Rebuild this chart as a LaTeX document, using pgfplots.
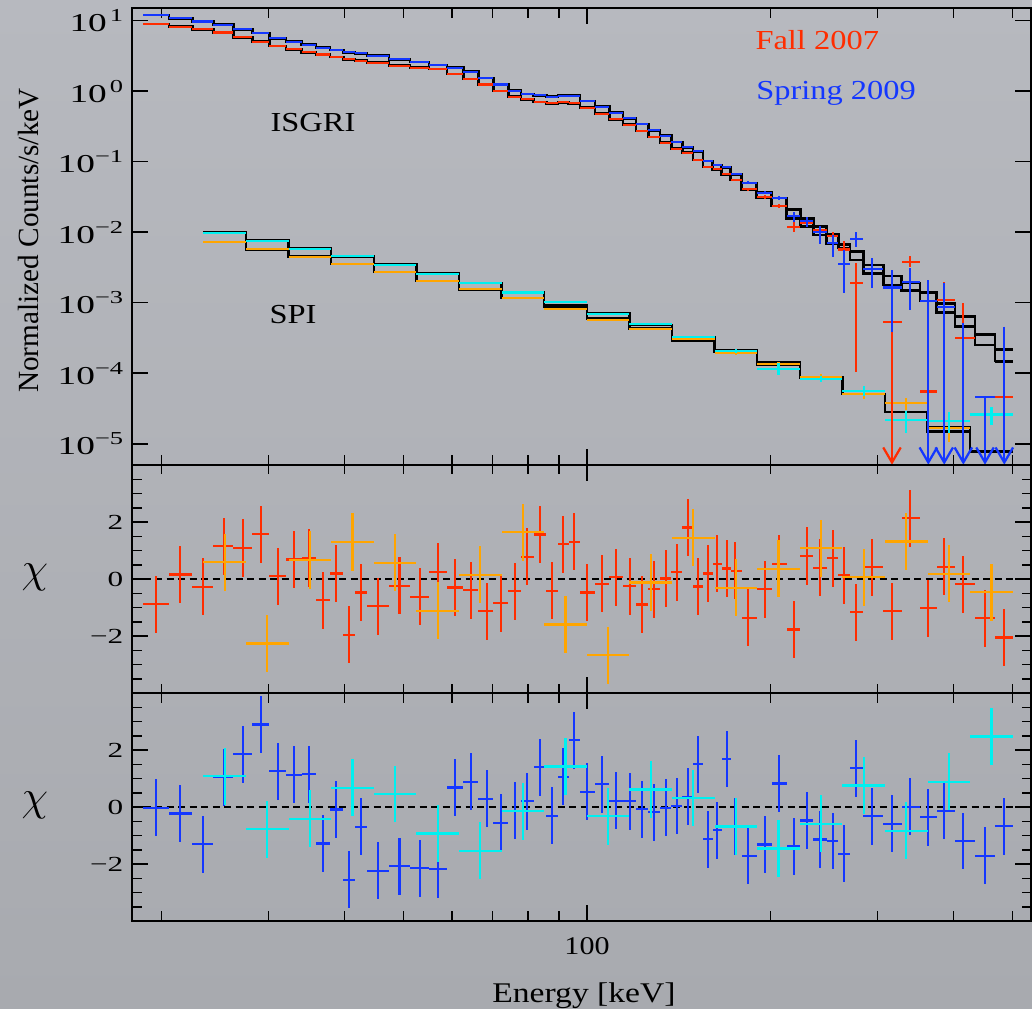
\documentclass[border=0pt]{standalone}
\usepackage{fontspec}
\setmainfont{Liberation Serif}[FakeStretch=1.18]
\newfontfamily\plainserif{Liberation Serif}
\newfontfamily\tickfont{Liberation Serif}[FakeStretch=1.45]
\usepackage{pgfplots}
\pgfplotsset{compat=1.18}
\usepackage{pgfplotstable}
\usetikzlibrary{arrows.meta}

\definecolor{bgtop}{RGB}{183,185,191}
\definecolor{bgbot}{RGB}{168,170,175}
\definecolor{myred}{RGB}{255,45,0}
\definecolor{myblue}{RGB}{20,55,255}
\definecolor{myorange}{RGB}{255,165,0}
\definecolor{mycyan}{RGB}{0,240,240}

\newcommand{\tsup}[1]{\raisebox{0.38em}{\fontsize{7.3}{8}\selectfont #1}}

% ISGRI: bin centre, edges, data (Fall 2007 = r, Spring 2009 = b) with bounds, models, chi residuals
\pgfplotstableread{
E lo hi r rlo rhi b blo bhi rm bm rc bc
19.58 18.68 20.59 8.98 8.98 8.98 12.0 12.0 12.0 8.98 12.0 -0.88 -0.02
21.49 20.59 22.48 8.20 8.20 8.20 10.8 10.8 10.8 8.20 10.8 0.16 -0.22
23.42 22.48 24.35 7.55 7.55 7.55 9.70 9.70 9.70 7.55 9.70 -0.27 -1.30
25.32 24.35 26.26 6.77 6.77 6.77 8.78 8.78 8.78 6.77 8.78 1.15 1.05
27.24 26.26 28.21 5.81 5.81 5.81 7.55 7.55 7.55 5.81 7.55 1.09 1.86
29.15 28.21 30.09 5.04 5.04 5.04 6.63 6.63 6.63 5.04 6.63 1.58 2.90
31.06 30.09 32.05 4.38 4.38 4.38 5.62 5.62 5.62 4.38 5.62 0.10 1.26
32.99 32.05 34.00 3.93 3.93 3.93 5.04 5.04 5.04 3.93 5.04 0.69 1.13
34.91 34.00 35.89 3.56 3.56 3.56 4.57 4.57 4.57 3.56 4.57 0.74 1.16
36.81 35.89 37.84 3.30 3.30 3.30 4.14 4.14 4.14 3.30 4.14 -0.74 -1.28
38.72 37.84 39.80 3.06 3.06 3.06 3.84 3.84 3.84 3.06 3.84 0.20 -0.08
40.67 39.80 41.60 2.83 2.83 2.83 3.56 3.56 3.56 2.83 3.56 -1.95 -2.55
42.56 41.60 43.49 2.71 2.71 2.71 3.45 3.45 3.45 2.71 3.45 -0.47 -0.69
45.43 43.49 47.30 2.54 2.54 2.54 3.19 3.19 3.19 2.54 3.19 -0.95 -2.24
49.19 47.30 51.22 2.30 2.30 2.30 2.83 2.83 2.83 2.30 2.83 -0.23 -2.07
53.13 51.22 55.04 2.15 2.15 2.15 2.59 2.59 2.59 2.15 2.59 -0.62 -2.14
56.95 55.04 58.85 2.07 2.07 2.07 2.35 2.35 2.35 2.07 2.35 0.25 -2.18
60.79 58.85 62.65 1.75 1.75 1.75 2.15 2.15 2.15 1.75 2.15 -0.29 0.69
64.50 62.65 66.31 1.50 1.50 1.50 1.89 1.89 1.89 1.50 1.89 -0.39 0.89
68.44 66.31 70.18 1.24 1.24 1.24 1.55 1.55 1.55 1.24 1.55 -1.12 0.29
72.16 70.18 74.27 1.01 1.01 1.01 1.24 1.24 1.24 1.01 1.24 -0.85 -0.55
76.17 74.27 77.92 0.836 0.836 0.836 1.017 1.017 1.017 0.836 1.017 -0.42 -0.13
79.79 77.92 81.75 0.767 0.767 0.767 0.913 0.913 0.913 0.767 0.913 0.78 0.21
83.71 81.75 85.74 0.703 0.703 0.703 0.874 0.874 0.874 0.703 0.874 1.56 1.40
87.70 85.74 89.61 0.673 0.673 0.673 0.836 0.836 0.836 0.673 0.836 -0.41 -0.31
91.43 89.61 93.32 0.695 0.695 0.695 0.864 0.864 0.864 0.695 0.864 1.22 1.07
95.31 93.32 97.39 0.673 0.673 0.673 0.864 0.864 0.864 0.673 0.864 1.31 2.35
100.11 97.39 103.07 0.584 0.584 0.584 0.726 0.726 0.726 0.584 0.726 -0.47 0.54
105.96 103.07 108.80 0.480 0.480 0.480 0.603 0.603 0.603 0.480 0.603 -0.16 0.81
111.71 108.80 114.56 0.399 0.399 0.399 0.496 0.496 0.496 0.399 0.496 0.07 0.22
117.52 114.56 120.34 0.335 0.335 0.335 0.412 0.412 0.412 0.335 0.412 -0.25 0.21
123.25 120.34 126.07 0.2725 0.2725 0.2725 0.343 0.343 0.343 0.2725 0.343 -0.89 -0.07
128.96 126.07 131.77 0.2241 0.2241 0.2241 0.2786 0.2786 0.2786 0.2241 0.2786 -0.35 -0.18
134.64 131.77 137.53 0.1862 0.1862 0.1862 0.2340 0.2340 0.2340 0.1862 0.2340 0.02 -0.02
140.52 137.53 143.37 0.1530 0.1530 0.1530 0.1903 0.1903 0.1903 0.1530 0.1903 0.24 0.04
146.32 143.37 149.29 0.1343 0.1343 0.1343 0.1599 0.1599 0.1599 0.1343 0.1599 1.81 0.36
152.14 149.29 155.05 0.1057 0.1057 0.1057 0.1403 0.1403 0.1403 0.1057 0.1403 -0.26 1.51
157.82 155.05 160.84 0.0840 0.0840 0.0840 0.1030 0.1030 0.1030 0.0840 0.1030 0.20 -1.13
163.66 160.84 166.40 0.0779 0.0779 0.0779 0.0898 0.0898 0.0898 0.0779 0.0898 0.54 -0.81
169.58 166.40 172.16 0.0662 0.0662 0.0662 0.0832 0.0832 0.0832 0.0662 0.0832 0.37 1.69
175.18 172.16 179.47 0.0550 0.0550 0.0550 0.0662 0.0662 0.0662 0.0550 0.0662 0.29 -0.69
184.02 179.47 189.94 0.0406 0.0385 0.0428 0.0500 0.0475 0.0527 0.0406 0.0500 -1.36 -1.71
195.78 189.94 201.01 0.0313 0.0295 0.0332 0.0363 0.0343 0.0385 0.0313 0.0363 -0.35 -1.31
206.87 201.01 212.74 0.0235 0.0218 0.0253 0.0308 0.0290 0.0327 0.0235 0.0308 0.53 0.83
218.45 212.74 223.96 0.01197 0.0101 0.0141 0.01698 0.0141 0.0196 0.0157 0.0210 -1.77 -1.37
229.97 223.96 235.25 0.01364 0.0125 0.0149 0.01456 0.0120 0.0163 0.0120 0.0157 0.81 -0.47
241.59 235.25 247.49 0.01075 0.0097 0.0119 0.01017 0.0069 0.0122 0.00913 0.0120 0.40 -1.14
253.18 247.49 258.67 0.00889 0.0078 0.0102 0.00705 0.00449 0.0091 0.00695 0.00943 0.73 -1.19
264.60 258.67 270.36 0.0057 0.0050 0.0074 0.00354 0.00136 0.00559 0.0060 0.0067 0.14 -1.64
276.52 270.36 284.26 0.00189 0.000105 0.00362 0.00793 0.00627 0.0100 0.00403 0.00529 -1.16 1.37
293.77 284.26 306.62 0.00303 0.0026 0.0035 0.00298 0.0016 0.00427 0.00261 0.00342 0.42 -0.32
316.82 306.62 328.66 0.000527 0.000527 0.00112 0.00165 0.000388 0.00291 0.00178 0.00239 -1.13 -0.59
339.52 328.66 352.37 0.00382 0.0032 0.0046 0.00199 0.000788 0.00307 0.00148 0.00192 2.13 0.01
363.47 352.37 375.22 0.0000553 0.0000553 0.0000553 0.00106 0.00106 0.0021 0.00106 0.00140 -1.02 -0.35
386.07 375.22 402.10 0.00109 0.00095 0.00197 0.00086 0.00086 0.00188 0.000723 0.00098 0.43 -0.13
414.94 402.10 433.70 0.000319 0.00025 0.00098 nan nan nan 0.000457 0.000633 -0.18 -1.19
450.35 433.70 467.70 nan nan nan 0.0000465 0.0000465 0.0000465 0.000251 0.000356 -1.37 -1.71
484.43 467.70 501.19 0.0000465 0.0000465 0.0000465 nan nan nan 0.000146 0.000218 -2.05 -0.67
}\isgri

% SPI: Fall 2007 = o, Spring 2009 = c
\pgfplotstableread{
E lo hi o olo ohi c clo cup om cm ores cres
25.41 23.44 27.54 0.00726 0.00726 0.00726 0.00984 0.00984 0.00984 0.00726 0.00984 0.59 1.09
29.85 27.54 32.35 0.00572 0.00572 0.00572 0.00757 0.00757 0.00757 0.00572 0.00757 -2.26 -0.77
35.06 32.35 38.00 0.00449 0.00449 0.00449 0.00583 0.00583 0.00583 0.00449 0.00583 0.67 -0.41
41.19 38.00 44.65 0.00357 0.00357 0.00357 0.00455 0.00455 0.00455 0.00357 0.00455 1.30 0.68
48.39 44.65 52.45 0.00273 0.00273 0.00273 0.00346 0.00346 0.00346 0.00273 0.00346 0.57 0.46
56.85 52.45 61.62 0.00203 0.00203 0.00203 0.00258 0.00258 0.00258 0.00203 0.00258 -1.11 -0.93
66.79 61.62 72.39 0.00155 0.00155 0.00155 0.00190 0.00190 0.00190 0.00155 0.00190 0.15 -1.53
78.46 72.39 85.04 0.00117 0.00117 0.00117 0.00140 0.00140 0.00140 0.00117 0.00140 1.65 -0.14
92.17 85.04 99.91 0.000806 0.00078 0.00083 0.00102 0.00099 0.00105 0.00088 0.00092 -1.59 1.43
108.29 99.91 117.37 0.000568 0.00055 0.000585 0.000691 0.00067 0.00071 0.000601 0.000700 -2.67 -0.32
127.22 117.37 137.89 0.000424 0.00041 0.00044 0.000494 0.00048 0.00051 0.000428 0.000480 -0.12 0.62
149.46 137.89 161.99 0.000309 0.00030 0.000318 0.000330 0.00032 0.00034 0.000289 0.000320 1.45 0.32
175.58 161.99 190.30 0.000193 0.00018 0.000207 0.000206 0.000193 0.00022 0.000200 0.000215 -0.30 -0.68
206.27 190.30 223.57 0.0001337 0.000122 0.000146 0.0001136 0.000094 0.000138 0.000130 0.000141 0.36 -1.45
242.33 223.57 262.65 0.0000892 0.000081 0.000098 0.0000827 0.000075 0.000091 0.000085 0.000089 1.08 -0.59
284.68 262.65 308.56 0.0000507 0.000043 0.000059 0.0000559 0.000048 0.000065 0.0000507 0.0000507 0.07 0.76
334.45 308.56 362.49 0.0000382 0.000030 0.000044 0.0000217 0.0000143 0.0000291 0.0000284 0.0000284 1.32 -0.83
392.90 362.49 425.86 0.0000169 0.0000107 0.0000199 0.0000212 0.0000140 0.0000284 0.0000169 0.0000149 0.19 0.89
461.59 425.86 500.30 nan nan nan 0.0000261 0.0000184 0.0000328 0.0000078 0.0000078 -0.46 2.48
}\spi

% settings common to all three panels
\pgfplotsset{
  scale only axis, width=359.6pt,
  xmin=17.90, xmax=535.9,
  axis line style={black, line width=0.6pt},
  tick style={black, line width=0.6pt},
  major tick length=6.5pt, minor tick length=3.8pt,
  tick align=inside,
  unbounded coords=discard,
}

\begin{document}
\begin{tikzpicture}
\shade[top color=bgtop, bottom color=bgbot] (0pt,0pt) rectangle (412.8pt,403.6pt);
\useasboundingbox (0pt,0pt) rectangle (412.8pt,403.6pt);

% ---------------- top panel ----------------
\begin{axis}[anchor=south west, at={(52.8pt,217.6pt)}, height=182.7pt,
  xmode=log, ymode=log, ymin=5.0e-6, ymax=15,
  xtick={100}, minor xtick={20,30,40,50,60,70,80,90,200,300,400,500},
  xticklabels={\empty},
  ytick={1e-5,1e-4,1e-3,1e-2,1e-1,1,10},
  yminorticks=false,
  yticklabels={10\tsup{−5},10\tsup{−4},10\tsup{−3},10\tsup{−2},10\tsup{−1},10\tsup{\,0},10\tsup{\,1}},
  yticklabel style={font=\tickfont\fontsize{10.3}{12}\selectfont},
]
% models
\addplot[black, line width=1pt, const plot, mark=none] table[x=lo, y=rm] {\isgri};
\addplot[black, line width=1pt, mark=none] coordinates {(467.70,0.000146) (501.19,0.000146)};
\addplot[black, line width=1pt, const plot, mark=none] table[x=lo, y=bm] {\isgri};
\addplot[black, line width=1pt, mark=none] coordinates {(467.70,0.000218) (501.19,0.000218)};
\addplot[black, line width=1pt, const plot, mark=none] table[x=lo, y=om] {\spi};
\addplot[black, line width=1pt, const plot, mark=none] table[x=lo, y=cm] {\spi};
\addplot[black, line width=1pt, mark=none] coordinates {(425.86,0.0000078) (500.30,0.0000078)};
% SPI data
\addplot[myorange, only marks, mark=*, mark size=0pt, mark options={draw=none, fill=none},
  error bars/x dir=both, error bars/x explicit, error bars/y dir=both, error bars/y explicit,
  error bars/error mark=none, error bars/error bar style={line width=0.9pt, solid, myorange}]
  table[x=E, y=o,
  x error plus expr=\thisrow{hi}-\thisrow{E}, x error minus expr=\thisrow{E}-\thisrow{lo},
  y error plus expr=\thisrow{ohi}-\thisrow{o}, y error minus expr=\thisrow{o}-\thisrow{olo}] {\spi};
\addplot[mycyan, only marks, mark=*, mark size=0pt, mark options={draw=none, fill=none},
  error bars/x dir=both, error bars/x explicit, error bars/y dir=both, error bars/y explicit,
  error bars/error mark=none, error bars/error bar style={line width=0.9pt, solid, mycyan}]
  table[x=E, y=c,
  x error plus expr=\thisrow{hi}-\thisrow{E}, x error minus expr=\thisrow{E}-\thisrow{lo},
  y error plus expr=\thisrow{cup}-\thisrow{c}, y error minus expr=\thisrow{c}-\thisrow{clo}] {\spi};
% ISGRI data
\addplot[myred, only marks, mark=*, mark size=0pt, mark options={draw=none, fill=none},
  error bars/x dir=both, error bars/x explicit, error bars/y dir=both, error bars/y explicit,
  error bars/error mark=none, error bars/error bar style={line width=0.9pt, solid, myred}]
  table[x=E, y=r,
  x error plus expr=\thisrow{hi}-\thisrow{E}, x error minus expr=\thisrow{E}-\thisrow{lo},
  y error plus expr=\thisrow{rhi}-\thisrow{r}, y error minus expr=\thisrow{r}-\thisrow{rlo}] {\isgri};
\addplot[myred, line width=0.9pt, -{Straight Barb[length=6pt,width=7pt]}] coordinates {(316.82,0.000527) (316.82,5.05e-6)};
\addplot[myblue, only marks, mark=*, mark size=0pt, mark options={draw=none, fill=none},
  error bars/x dir=both, error bars/x explicit, error bars/y dir=both, error bars/y explicit,
  error bars/error mark=none, error bars/error bar style={line width=0.9pt, solid, myblue}]
  table[x=E, y=b,
  x error plus expr=\thisrow{hi}-\thisrow{E}, x error minus expr=\thisrow{E}-\thisrow{lo},
  y error plus expr=\thisrow{bhi}-\thisrow{b}, y error minus expr=\thisrow{b}-\thisrow{blo}] {\isgri};
\addplot[myblue, line width=0.9pt, -{Straight Barb[length=6pt,width=7pt]}] coordinates {(363.47,0.00106) (363.47,5.05e-6)};
\addplot[myblue, line width=0.9pt, -{Straight Barb[length=6pt,width=7pt]}] coordinates {(386.07,0.00086) (386.07,5.05e-6)};
\addplot[myblue, line width=0.9pt, -{Straight Barb[length=6pt,width=7pt]}] coordinates {(414.94,0.00051) (414.94,5.05e-6)};
\addplot[myblue, line width=0.9pt, -{Straight Barb[length=6pt,width=7pt]}] coordinates {(450.35,0.0000465) (450.35,5.05e-6)};
\addplot[myblue, line width=0.9pt, -{Straight Barb[length=6pt,width=7pt]}] coordinates {(484.43,0.000457) (484.43,5.05e-6)};
\end{axis}

% ---------------- middle panel (Fall 2007) ----------------
\begin{axis}[anchor=south west, at={(52.8pt,126.3pt)}, height=91.3pt,
  xmode=log,
  xtick={100}, minor xtick={20,30,40,50,60,70,80,90,200,300,400,500},
  xticklabels={\empty},
  ymin=-4, ymax=4, ytick={-2,0,2},
  minor ytick={-3.5,-3,-2.5,-1.5,-1,-0.5,0.5,1,1.5,2.5,3,3.5},
  yticklabels={−2,0,2},
  yticklabel style={font=\tickfont\fontsize{8.6}{10}\selectfont},
]
\addplot[black, line width=0.9pt, dash pattern=on 2.8pt off 1.8pt] coordinates {(17.9,0) (535.9,0)};
\addplot[myred, only marks, mark=*, mark size=0pt, mark options={draw=none, fill=none},
  error bars/x dir=both, error bars/x explicit, error bars/y dir=both, error bars/y fixed=1,
  error bars/error mark=none, error bars/error bar style={line width=0.9pt, solid, myred}]
  table[x=E, y=rc,
  x error plus expr=\thisrow{hi}-\thisrow{E}, x error minus expr=\thisrow{E}-\thisrow{lo}] {\isgri};
\addplot[myorange, only marks, mark=*, mark size=0pt, mark options={draw=none, fill=none},
  error bars/x dir=both, error bars/x explicit, error bars/y dir=both, error bars/y fixed=1,
  error bars/error mark=none, error bars/error bar style={line width=0.9pt, solid, myorange}]
  table[x=E, y=ores,
  x error plus expr=\thisrow{hi}-\thisrow{E}, x error minus expr=\thisrow{E}-\thisrow{lo}] {\spi};
\end{axis}

% ---------------- bottom panel (Spring 2009) ----------------
\begin{axis}[anchor=south west, at={(52.8pt,35.2pt)}, height=91.1pt,
  xmode=log,
  xtick={100}, minor xtick={20,30,40,50,60,70,80,90,200,300,400,500},
  xticklabels={100},
  xticklabel style={font=\fontsize{10.2}{12}\selectfont, yshift=-3pt},
  ymin=-4, ymax=4, ytick={-2,0,2},
  minor ytick={-3.5,-3,-2.5,-1.5,-1,-0.5,0.5,1,1.5,2.5,3,3.5},
  yticklabels={−2,0,2},
  yticklabel style={font=\tickfont\fontsize{8.6}{10}\selectfont},
]
\addplot[black, line width=0.9pt, dash pattern=on 2.8pt off 1.8pt] coordinates {(17.9,0) (535.9,0)};
\addplot[myblue, only marks, mark=*, mark size=0pt, mark options={draw=none, fill=none},
  error bars/x dir=both, error bars/x explicit, error bars/y dir=both, error bars/y fixed=1,
  error bars/error mark=none, error bars/error bar style={line width=0.9pt, solid, myblue}]
  table[x=E, y=bc,
  x error plus expr=\thisrow{hi}-\thisrow{E}, x error minus expr=\thisrow{E}-\thisrow{lo}] {\isgri};
\addplot[mycyan, only marks, mark=*, mark size=0pt, mark options={draw=none, fill=none},
  error bars/x dir=both, error bars/x explicit, error bars/y dir=both, error bars/y fixed=1,
  error bars/error mark=none, error bars/error bar style={line width=0.9pt, solid, mycyan}]
  table[x=E, y=cres,
  x error plus expr=\thisrow{hi}-\thisrow{E}, x error minus expr=\thisrow{E}-\thisrow{lo}] {\spi};
\end{axis}

% ---------------- labels ----------------
\node[anchor=base, inner sep=0pt, font=\fontsize{11}{13}\selectfont] at (125.2pt,350.9pt) {ISGRI};
\node[anchor=base, inner sep=0pt, font=\fontsize{11}{13}\selectfont] at (117.2pt,274.3pt) {SPI};
\node[anchor=base west, inner sep=0pt, text=myred, font=\fontsize{11}{13}\selectfont] at (302pt,383.6pt) {Fall 2007};
\node[anchor=base west, inner sep=0pt, text=myblue, font=\fontsize{11}{13}\selectfont] at (302.3pt,363.6pt) {Spring 2009};
\node[anchor=base, inner sep=0pt, font=\fontsize{11.4}{13}\selectfont] at (233.6pt,2.4pt) {Energy [keV]};
\node[anchor=base, inner sep=0pt, rotate=90, font=\plainserif\fontsize{11.7}{13}\selectfont] at (15.3pt,307.4pt) {Normalized Counts/s/keV};
\node[inner sep=0pt, font=\fontsize{17}{17}\selectfont] at (13.9pt,172.5pt) {$\chi$};
\node[inner sep=0pt, font=\fontsize{17}{17}\selectfont] at (13.9pt,81.3pt) {$\chi$};
\end{tikzpicture}
\end{document}
